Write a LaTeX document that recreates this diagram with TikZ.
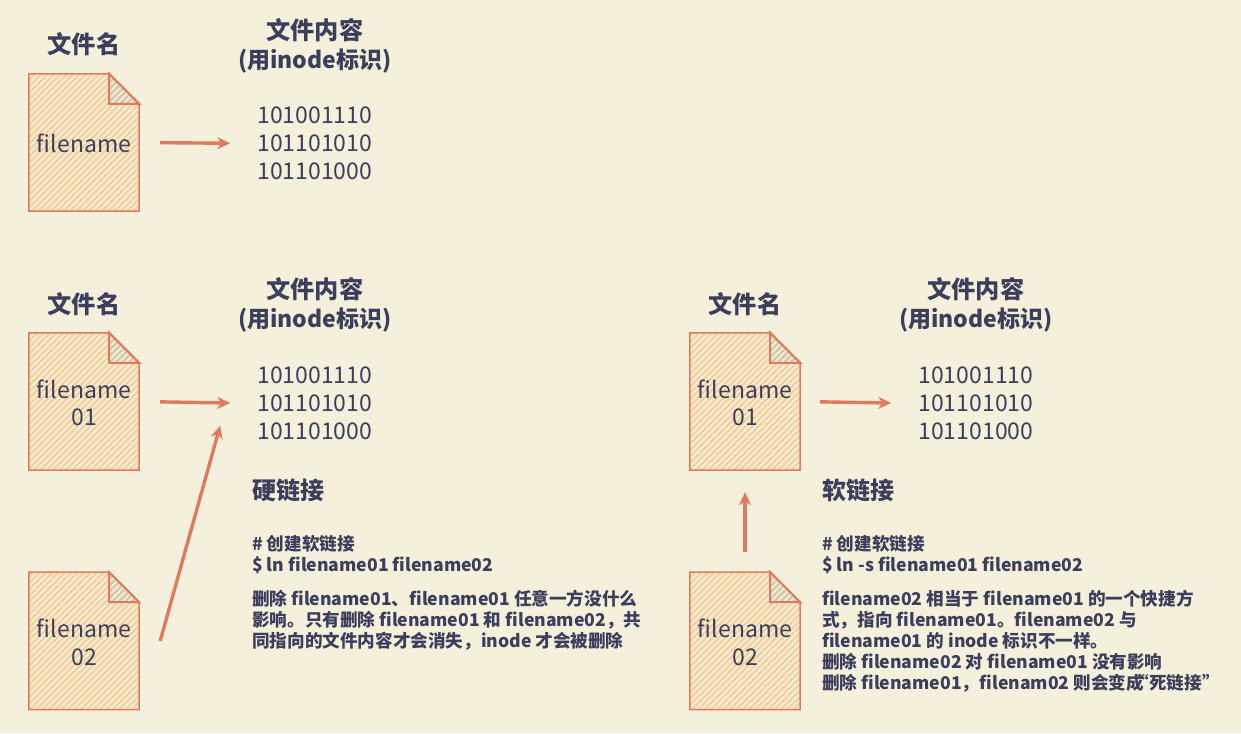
\documentclass[tikz,border=0pt]{standalone}
\usepackage{fontspec}
\setmainfont{Noto Sans CJK SC}
\usetikzlibrary{arrows.meta,positioning,patterns.meta,backgrounds}
\definecolor{paper}{HTML}{F4F0DC}
\definecolor{ink}{HTML}{3B3F5C}
\definecolor{coral}{HTML}{E07A5F}
\definecolor{hatch}{HTML}{F5CF9A}
\definecolor{foldhatch}{HTML}{D2CAAC}
\newcommand{\pagetop}{\rule{0pt}{21pt}}
\newcommand{\smallhead}{\fontsize{23}{29}\selectfont}
\newcommand{\filepage}[1]{%
  \begin{pgfonlayer}{background}
  \draw[pagebody] (#1.north west) -- ([xshift=-30pt]#1.north east) -- ([yshift=-30pt]#1.north east)
    -- (#1.south east) -- (#1.south west) -- cycle;
  \draw[pagefold] ([xshift=-30pt]#1.north east) -- ([yshift=-30pt]#1.north east)
    -- ([xshift=-30pt,yshift=-30pt]#1.north east) -- cycle;
  \end{pgfonlayer}
}
\begin{document}
\begin{tikzpicture}[
    x=1pt, y=-1pt,
    font=\fontsize{23}{28}\selectfont,
    text=ink,
    filenode/.style={font=\fontsize{23}{27.5}\selectfont, minimum width=110pt, minimum height=137pt, inner sep=0pt, align=center},
    pagebody/.style={draw=coral, line width=1.5pt, pattern={Lines[angle=45,distance=4.5pt,line width=2.2pt]}, pattern color=hatch},
    pagefold/.style={draw=coral, line width=2pt, pattern={Lines[angle=45,distance=4.5pt,line width=2.2pt]}, pattern color=foldhatch},
    namehead/.style={font=\fontsize{24.2}{29}\selectfont\bfseries, inner sep=0pt, align=center},
    bitsnode/.style={inner sep=0pt, align=center},
    notehead/.style={font=\fontsize{24}{29}\selectfont\bfseries, inner sep=0pt, anchor=west},
    notetext/.style={font=\fontsize{17.6}{21}\selectfont\bfseries, inner sep=0pt, anchor=west, align=left},
    arrow/.style={-{Stealth[length=13pt,width=12pt]}, line width=3.4pt, draw=coral}
]
\begin{pgfonlayer}{background}
\fill[paper] (0,0) rectangle (1241,733);
\end{pgfonlayer}
\useasboundingbox (0,0) rectangle (1241,733);
% first row
\node[filenode] (single) at (84,142.5) {\pagetop filename};
\filepage{single}
\node[namehead, above=17.5pt of single] (singlehead) {文件名};
\node[bitsnode, right=118pt of single, yshift=-1pt] (singlebits) {101001110\\101101010\\101101000};
\node[namehead, above=33.5pt of singlebits] (singlecontent) {文件内容\\{\smallhead (用inode标识)}};
\draw[arrow, shorten <=21pt, shorten >=27pt] (single.east) -- (singlebits.west);
% hard link
\node[filenode] (hardone) at (84,401.5) {\pagetop filename\\01};
\filepage{hardone}
\node[filenode, below=102pt of hardone] (hardtwo) {\pagetop filename\\02};
\filepage{hardtwo}
\node[namehead, above=17pt of hardone] (hardhead) {文件名};
\node[bitsnode, right=118pt of hardone, yshift=-2pt] (hardbits) {101001110\\101101010\\101101000};
\node[namehead, above=34.5pt of hardbits] (hardcontent) {文件内容\\{\smallhead (用inode标识)}};
\draw[arrow, shorten <=21pt, shorten >=27pt] (hardone.east) -- (hardbits.west);
\draw[arrow] ([xshift=21pt]hardtwo.east) -- ([shift={(-37pt,-22pt)}]hardbits.west);
\node[notehead] (hardtitle) at (252,490) {硬链接};
\node[notetext] (hardcmd) at (252,554.5) {\# 创建软链接\\\$ ln filename01 filename02};
\node[notetext] (hardnote) at (252,620) {删除 filename01、filename01 任意一方没什么\\影响。只有删除 filename01 和 filename02，共\\同指向的文件内容才会消失，inode 才会被删除};
% soft link
\node[filenode] (softone) at (745,401.5) {\pagetop filename\\01};
\filepage{softone}
\node[filenode, below=102pt of softone] (softtwo) {\pagetop filename\\02};
\filepage{softtwo}
\node[namehead, above=17pt of softone] (softhead) {文件名};
\node[bitsnode, right=118pt of softone, yshift=-2pt] (softbits) {101001110\\101101010\\101101000};
\node[namehead, above=34.5pt of softbits] (softcontent) {文件内容\\{\smallhead (用inode标识)}};
\draw[arrow, shorten <=20pt, shorten >=27pt] (softone.east) -- (softbits.west);
\draw[arrow, shorten <=20pt, shorten >=22pt] (softtwo.north) -- (softone.south);
\node[notehead] (softtitle) at (822,490) {软链接};
\node[notetext] (softcmd) at (822,554.5) {\# 创建软链接\\\$ ln -s filename01 filename02};
\node[notetext] (softnote) at (822,641) {filename02 相当于 filename01 的一个快捷方\\式，指向 filename01。filename02 与\\filename01 的 inode 标识不一样。\\删除 filename02 对 filename01 没有影响\\删除 filename01，filenam02 则会变成\hspace{-.7em}“死链接”};
\end{tikzpicture}
\end{document}
